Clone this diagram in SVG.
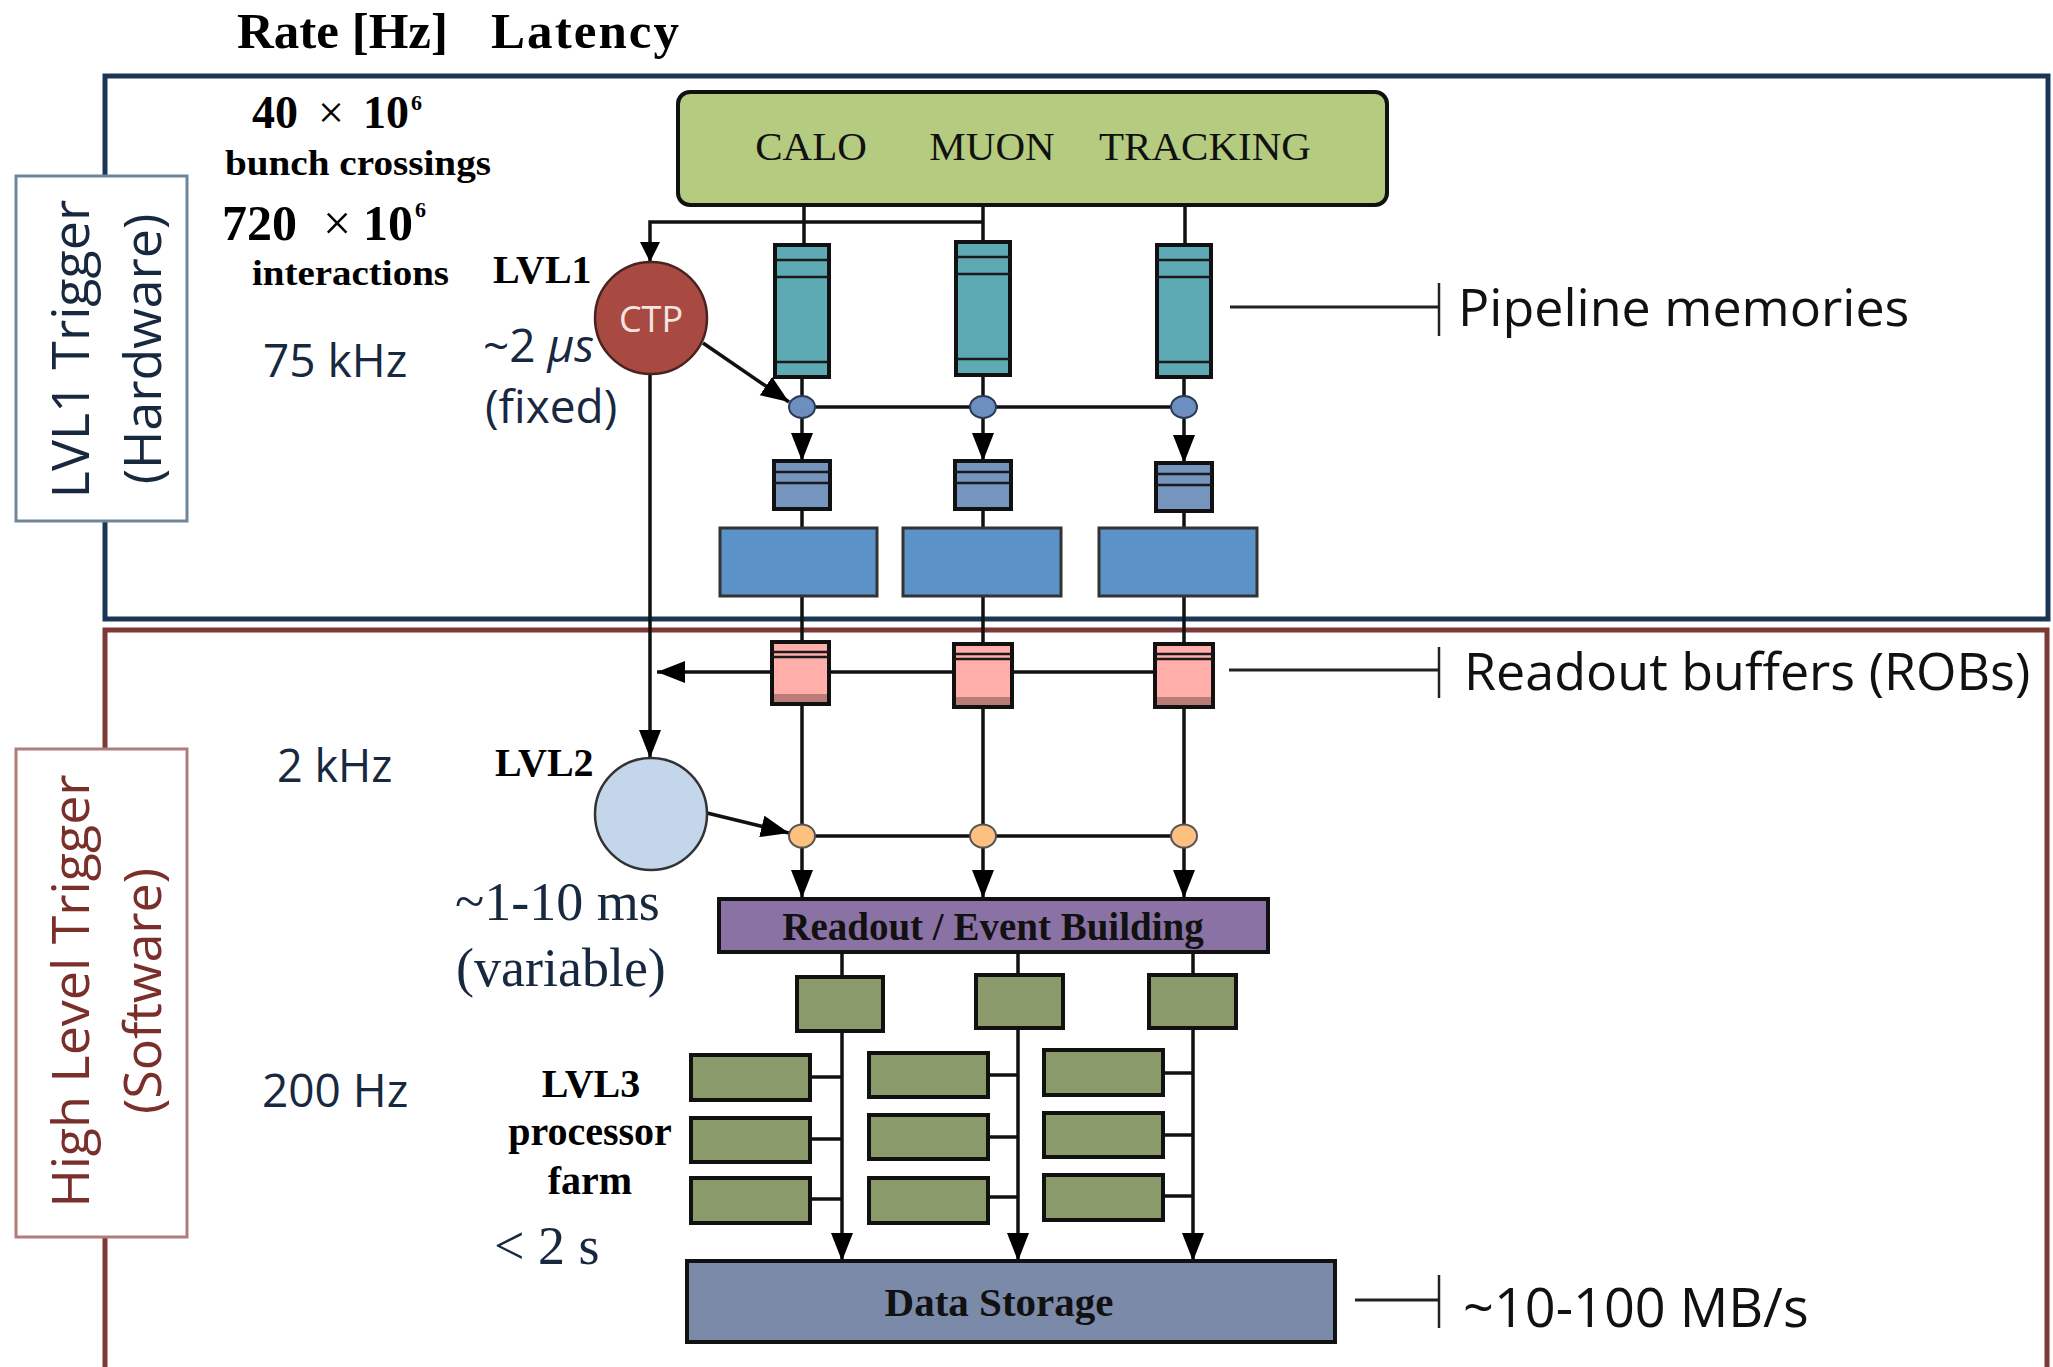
<svg xmlns="http://www.w3.org/2000/svg" width="2053" height="1367" viewBox="0 0 2053 1367">
<defs>
<style>
.sans{font-family:"Open Sans","Noto Sans","DejaVu Sans",sans-serif}
.serif{font-family:"Liberation Serif","Times New Roman",serif}
.b{font-weight:bold}
.navy{fill:#17283f}
.wire{stroke:#111;stroke-width:3.5;fill:none}
.arr{marker-end:url(#ah)}
.lead{stroke:#222;stroke-width:3;fill:none}
.tick{stroke:#222;stroke-width:2.5;fill:none}
.teal{fill:#5daab5;stroke:#111;stroke-width:4}
.der{fill:#7595be;stroke:#111;stroke-width:4}
.big{fill:#5b92c7;stroke:#333;stroke-width:3}
.rob{fill:#ffaeaa;stroke:#111;stroke-width:4}
.stripe{stroke:#1a1a1a;stroke-width:2.5}
.bdot{fill:#6d8fbf;stroke:#2a3a55;stroke-width:2}
.odot{fill:#fdc07f;stroke:#555;stroke-width:2}
.farm{fill:#8a9a6a;stroke:#111;stroke-width:4}
</style>
<marker id="ah" markerUnits="userSpaceOnUse" markerWidth="30" markerHeight="24" refX="28" refY="11" orient="auto"><path d="M0,0 L28,11 L0,22 Z" fill="#000"/></marker>
<marker id="ah2" markerUnits="userSpaceOnUse" markerWidth="22" markerHeight="22" refX="20" refY="10" orient="auto"><path d="M0,0 L20,10 L0,20 Z" fill="#000"/></marker>
</defs>
<rect width="2053" height="1367" fill="#fff"/>

<!-- header -->
<g id="header" class="serif b" font-size="51" fill="#000">
<text x="237" y="48">Rate [Hz]</text>
<text x="491" y="48" textLength="188">Latency</text>
</g>

<!-- frames -->
<g id="frame-lvl1">
<rect x="105" y="76" width="1943" height="543" fill="none" stroke="#1b3654" stroke-width="5"/>
</g>
<g id="frame-hlt">
<path d="M105,1372 V630 H2047 V1372" fill="none" stroke="#7c3935" stroke-width="5"/>
</g>

<!-- connectors -->
<g id="connectors">
<line class="wire" x1="804" y1="205" x2="804" y2="245"/>
<line class="wire" x1="983" y1="205" x2="983" y2="242"/>
<line class="wire" x1="1185" y1="205" x2="1185" y2="245"/>
<path class="wire" d="M983,222 H650 V262" marker-end="url(#ah2)"/>
<line class="wire" x1="802" y1="377" x2="802" y2="397"/>
<line class="wire" x1="983" y1="375" x2="983" y2="397"/>
<line class="wire" x1="1184" y1="377" x2="1184" y2="397"/>
<line class="wire" x1="802" y1="407" x2="1184" y2="407"/>
<line class="wire arr" x1="703" y1="343" x2="789" y2="402"/>
<line class="wire arr" x1="802" y1="418" x2="802" y2="461"/>
<line class="wire arr" x1="983" y1="418" x2="983" y2="461"/>
<line class="wire arr" x1="1184" y1="418" x2="1184" y2="463"/>
<line class="wire" x1="802" y1="509" x2="802" y2="528"/>
<line class="wire" x1="983" y1="509" x2="983" y2="528"/>
<line class="wire" x1="1184" y1="511" x2="1184" y2="528"/>
<line class="wire" x1="802" y1="596" x2="802" y2="642"/>
<line class="wire" x1="983" y1="596" x2="983" y2="644"/>
<line class="wire" x1="1184" y1="596" x2="1184" y2="644"/>
<line class="wire arr" x1="1160" y1="672" x2="657" y2="672"/>
<line class="wire arr" x1="650" y1="374" x2="650" y2="758"/>
<line class="wire" x1="802" y1="704" x2="802" y2="825"/>
<line class="wire" x1="983" y1="707" x2="983" y2="825"/>
<line class="wire" x1="1184" y1="707" x2="1184" y2="825"/>
<line class="wire" x1="802" y1="836" x2="1184" y2="836"/>
<line class="wire arr" x1="707" y1="813" x2="789" y2="833"/>
<line class="wire arr" x1="802" y1="848" x2="802" y2="898"/>
<line class="wire arr" x1="983" y1="848" x2="983" y2="898"/>
<line class="wire arr" x1="1184" y1="848" x2="1184" y2="898"/>
<line class="wire" x1="842" y1="952" x2="842" y2="977"/>
<line class="wire" x1="1018" y1="952" x2="1018" y2="975"/>
<line class="wire" x1="1193" y1="952" x2="1193" y2="975"/>
<line class="wire arr" x1="842" y1="1031" x2="842" y2="1261"/>
<line class="wire arr" x1="1018" y1="1028" x2="1018" y2="1261"/>
<line class="wire arr" x1="1193" y1="1028" x2="1193" y2="1261"/>
<line class="wire" x1="810" y1="1077" x2="842" y2="1077"/>
<line class="wire" x1="810" y1="1139" x2="842" y2="1139"/>
<line class="wire" x1="810" y1="1199" x2="842" y2="1199"/>
<line class="wire" x1="988" y1="1075" x2="1018" y2="1075"/>
<line class="wire" x1="988" y1="1137" x2="1018" y2="1137"/>
<line class="wire" x1="988" y1="1197" x2="1018" y2="1197"/>
<line class="wire" x1="1163" y1="1073" x2="1193" y2="1073"/>
<line class="wire" x1="1163" y1="1135" x2="1193" y2="1135"/>
<line class="wire" x1="1163" y1="1196" x2="1193" y2="1196"/>
<!-- side leaders -->
<line class="lead" x1="1230" y1="307" x2="1439" y2="307"/>
<line class="tick" x1="1439" y1="283" x2="1439" y2="336"/>
<line class="lead" x1="1229" y1="670" x2="1439" y2="670" stroke="#444"/>
<line class="tick" x1="1439" y1="647" x2="1439" y2="698"/>
<line class="lead" x1="1355" y1="1300" x2="1439" y2="1300" stroke="#444"/>
<line class="tick" x1="1439" y1="1275" x2="1439" y2="1328"/>
</g>

<!-- side label boxes -->
<g id="label-lvl1">
<rect x="16" y="176" width="171" height="345" fill="#fff" stroke="#6f8599" stroke-width="3"/>
<g class="sans" font-size="52" fill="#17283f" text-anchor="middle">
<text transform="translate(89,349) rotate(-90)">LVL1 Trigger</text>
<text transform="translate(161,349) rotate(-90)">(Hardware)</text>
</g>
</g>
<g id="label-hlt">
<rect x="16" y="749" width="171" height="488" fill="#fff" stroke="#b07c79" stroke-width="3"/>
<g class="sans" font-size="52" fill="#7a2f2b" text-anchor="middle">
<text transform="translate(89,991) rotate(-90)">High Level Trigger</text>
<text transform="translate(161,991) rotate(-90)">(Software)</text>
</g>
</g>

<!-- rates and latencies -->
<g id="rates">
<text class="serif b" font-size="46" y="128"><tspan x="252">40</tspan><tspan x="318" font-weight="normal">×</tspan><tspan x="363">10</tspan><tspan x="411" y="110" font-size="22">6</tspan></text>
<text class="serif b" x="225" y="175" font-size="36" textLength="266" lengthAdjust="spacingAndGlyphs">bunch crossings</text>
<text class="serif b" font-size="50" y="240"><tspan x="222">720</tspan><tspan x="323" font-weight="normal">×</tspan><tspan x="363">10</tspan><tspan x="415" y="217" font-size="22">6</tspan></text>
<text class="serif b" x="252" y="285" font-size="36" textLength="197" lengthAdjust="spacingAndGlyphs">interactions</text>
<text class="sans navy" x="263" y="377" font-size="46">75 kHz</text>
<text class="sans navy" x="277" y="782" font-size="45">2 kHz</text>
<text class="sans navy" x="262" y="1107" font-size="46">200 Hz</text>
<text class="serif b" x="493" y="283" font-size="40">LVL1</text>
<text class="sans navy" x="483" y="362" font-size="46">~2 <tspan font-style="italic">μs</tspan></text>
<text class="sans navy" x="485" y="423" font-size="46">(fixed)</text>
<text class="serif b" x="495" y="776" font-size="40">LVL2</text>
<text class="serif navy" x="455" y="920" font-size="54">~1-10 ms</text>
<text class="serif navy" x="456" y="986" font-size="54">(variable)</text>
<g class="serif b" font-size="40" text-anchor="middle">
<text x="591" y="1097">LVL3</text>
<text x="590" y="1145">processor</text>
<text x="590" y="1194">farm</text>
</g>
<text class="serif navy" x="494" y="1264" font-size="54">&lt; 2 s</text>
</g>

<!-- nodes -->
<g id="detectors">
<rect x="678" y="92" width="709" height="113" rx="12" fill="#b4cb80" stroke="#111" stroke-width="4"/>
<g class="serif" font-size="41" text-anchor="middle" fill="#111">
<text x="811" y="160">CALO</text>
<text x="992" y="160">MUON</text>
<text x="1205" y="160">TRACKING</text>
</g>
</g>

<g id="ctp">
<circle cx="651" cy="318" r="56" fill="#a84a42" stroke="#4a2320" stroke-width="2.5"/>
<text class="sans" x="651" y="332" font-size="36" text-anchor="middle" fill="#f6e4e0">CTP</text>
</g>
<g id="lvl2">
<circle cx="651" cy="814" r="56" fill="#c3d6ea" stroke="#333" stroke-width="2.5"/>
</g>

<g id="pipeline-1"><rect class="teal" x="775" y="245" width="54" height="132"/><line class="stripe" x1="775" y1="260" x2="829" y2="260"/><line class="stripe" x1="775" y1="277" x2="829" y2="277"/><line class="stripe" x1="775" y1="362" x2="829" y2="362"/></g>
<g id="pipeline-2"><rect class="teal" x="956" y="242" width="54" height="133"/><line class="stripe" x1="956" y1="257" x2="1010" y2="257" stroke-width="4"/><line class="stripe" x1="956" y1="274" x2="1010" y2="274"/><line class="stripe" x1="956" y1="359" x2="1010" y2="359"/></g>
<g id="pipeline-3"><rect class="teal" x="1157" y="245" width="54" height="132"/><line class="stripe" x1="1157" y1="260" x2="1211" y2="260"/><line class="stripe" x1="1157" y1="277" x2="1211" y2="277"/><line class="stripe" x1="1157" y1="362" x2="1211" y2="362"/></g>

<g id="l1-accept-1"><ellipse class="bdot" cx="802" cy="407" rx="13" ry="11"/></g>
<g id="l1-accept-2"><ellipse class="bdot" cx="983" cy="407" rx="13" ry="11"/></g>
<g id="l1-accept-3"><ellipse class="bdot" cx="1184" cy="407" rx="13" ry="11"/></g>

<g id="derandomizer-1"><rect class="der" x="774" y="461" width="56" height="48"/><line class="stripe" x1="774" y1="472" x2="830" y2="472"/><line class="stripe" x1="774" y1="483" x2="830" y2="483"/></g>
<g id="derandomizer-2"><rect class="der" x="955" y="461" width="56" height="48"/><line class="stripe" x1="955" y1="472" x2="1011" y2="472"/><line class="stripe" x1="955" y1="483" x2="1011" y2="483"/></g>
<g id="derandomizer-3"><rect class="der" x="1156" y="463" width="56" height="48"/><line class="stripe" x1="1156" y1="474" x2="1212" y2="474"/><line class="stripe" x1="1156" y1="485" x2="1212" y2="485"/></g>

<g id="readout-driver-1"><rect class="big" x="720" y="528" width="157" height="68"/></g>
<g id="readout-driver-2"><rect class="big" x="903" y="528" width="158" height="68"/></g>
<g id="readout-driver-3"><rect class="big" x="1099" y="528" width="158" height="68"/></g>

<g id="rob-1"><rect class="rob" x="772" y="642" width="57" height="62"/><line class="stripe" x1="772" y1="652" x2="829" y2="652"/><line class="stripe" x1="772" y1="657" x2="829" y2="657"/><rect x="774" y="694" width="53" height="8" fill="#8a5a58" opacity="0.6"/></g>
<g id="rob-2"><rect class="rob" x="954" y="644" width="58" height="63"/><line class="stripe" x1="954" y1="654" x2="1012" y2="654"/><line class="stripe" x1="954" y1="659" x2="1012" y2="659"/><rect x="956" y="697" width="54" height="8" fill="#8a5a58" opacity="0.6"/></g>
<g id="rob-3"><rect class="rob" x="1155" y="644" width="58" height="63"/><line class="stripe" x1="1155" y1="654" x2="1213" y2="654"/><line class="stripe" x1="1155" y1="659" x2="1213" y2="659"/><rect x="1157" y="697" width="54" height="8" fill="#8a5a58" opacity="0.6"/></g>

<g id="l2-accept-1"><ellipse class="odot" cx="802" cy="836" rx="13" ry="11.5"/></g>
<g id="l2-accept-2"><ellipse class="odot" cx="983" cy="836" rx="13" ry="11.5"/></g>
<g id="l2-accept-3"><ellipse class="odot" cx="1184" cy="836" rx="13" ry="11.5"/></g>

<g id="event-building">
<rect x="719" y="899" width="549" height="53" fill="#8b72a5" stroke="#111" stroke-width="4"/>
<text class="serif b" x="993" y="940" font-size="39" text-anchor="middle" fill="#111">Readout / Event Building</text>
</g>

<g id="subfarm-1"><rect class="farm" x="797" y="977" width="86" height="54"/></g>
<g id="subfarm-2"><rect class="farm" x="976" y="975" width="87" height="53"/></g>
<g id="subfarm-3"><rect class="farm" x="1149" y="975" width="87" height="53"/></g>

<g id="farm-col1">
<rect class="farm" x="691" y="1055" width="119" height="45"/>
<rect class="farm" x="691" y="1118" width="119" height="44"/>
<rect class="farm" x="691" y="1178" width="119" height="45"/>
</g>
<g id="farm-col2">
<rect class="farm" x="869" y="1053" width="119" height="44"/>
<rect class="farm" x="869" y="1115" width="119" height="44"/>
<rect class="farm" x="869" y="1178" width="119" height="45"/>
</g>
<g id="farm-col3">
<rect class="farm" x="1044" y="1050" width="119" height="45"/>
<rect class="farm" x="1044" y="1113" width="119" height="44"/>
<rect class="farm" x="1044" y="1175" width="119" height="45"/>
</g>

<g id="data-storage">
<rect x="687" y="1261" width="648" height="81" fill="#7a8aa8" stroke="#111" stroke-width="4"/>
<text class="serif b" x="999" y="1316" font-size="41" text-anchor="middle" fill="#111">Data Storage</text>
</g>

<g id="side-labels" class="sans" font-size="52" fill="#111">
<text x="1458" y="326">Pipeline memories</text>
<text x="1464" y="690">Readout buffers (ROBs)</text>
<text x="1463" y="1327" font-size="54">~10-100 MB/s</text>
</g>
</svg>
